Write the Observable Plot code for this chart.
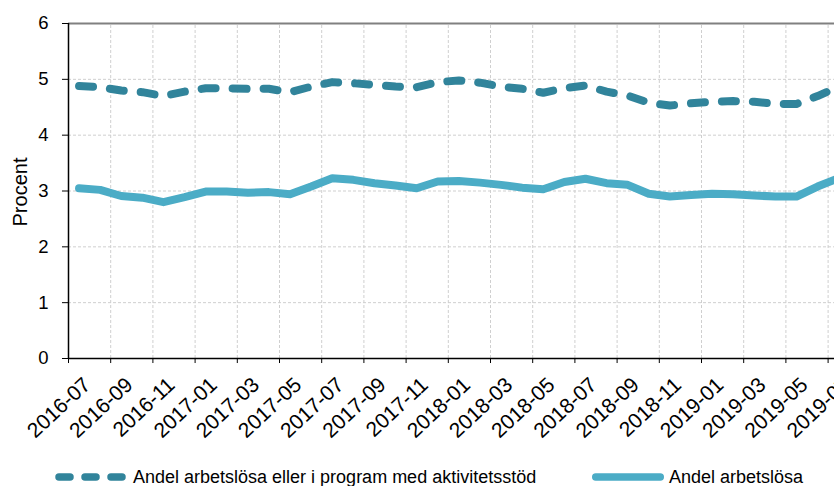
<!DOCTYPE html>
<html>
<head>
<meta charset="utf-8">
<script src="https://cdn.jsdelivr.net/npm/d3@7"></script>
<script src="https://cdn.jsdelivr.net/npm/@observablehq/plot@0.6"></script>
<style>
  html, body { margin: 0; padding: 0; background: white; overflow: hidden; }
  #chart { width: 834px; }
  .legend { position: relative; width: 834px; height: 31px; font-family: "Liberation Sans", Arial, sans-serif; font-size: 18px; color: #000; }
  .legend svg { position: absolute; }
  .legend span { position: absolute; top: 11px; line-height: 22px; white-space: nowrap; }
</style>
</head>
<body>
<div id="chart"></div>
<div class="legend">
  <svg style="left:54px;top:14px" width="84" height="16">
    <line x1="5" y1="8" x2="77" y2="8" stroke="#31849B" stroke-width="7.5" stroke-linecap="round" stroke-dasharray="11,15"></line>
  </svg>
  <span style="left:133px">Andel arbetslösa eller i program med aktivitetsstöd</span>
  <svg style="left:588px;top:14px" width="80" height="16">
    <line x1="7.75" y1="8" x2="72.25" y2="8" stroke="#4BACC6" stroke-width="7.5" stroke-linecap="round"></line>
  </svg>
  <span style="left:669px">Andel arbetslösa</span>
</div>
<script>
const months = [
  "2016-07","2016-08","2016-09","2016-10","2016-11","2016-12",
  "2017-01","2017-02","2017-03","2017-04","2017-05","2017-06",
  "2017-07","2017-08","2017-09","2017-10","2017-11","2017-12",
  "2018-01","2018-02","2018-03","2018-04","2018-05","2018-06",
  "2018-07","2018-08","2018-09","2018-10","2018-11","2018-12",
  "2019-01","2019-02","2019-03","2019-04","2019-05","2019-06",
  "2019-07"
];
const arbetslosaEllerProgram = [
  4.88, 4.86, 4.80, 4.77, 4.70, 4.78,
  4.84, 4.84, 4.83, 4.83, 4.77, 4.87,
  4.95, 4.93, 4.90, 4.87, 4.86, 4.95,
  4.98, 4.94, 4.87, 4.83, 4.76, 4.84,
  4.89, 4.78, 4.71, 4.58, 4.53, 4.57,
  4.60, 4.61, 4.60, 4.56, 4.56, 4.70,
  4.87
];
const arbetslosa = [
  3.05, 3.02, 2.91, 2.88, 2.80, 2.89,
  2.99, 2.99, 2.97, 2.98, 2.94, 3.08,
  3.23, 3.20, 3.14, 3.10, 3.05, 3.17,
  3.18, 3.15, 3.11, 3.06, 3.03, 3.16,
  3.22, 3.14, 3.11, 2.95, 2.90, 2.93,
  2.95, 2.94, 2.92, 2.90, 2.90, 3.08,
  3.23
];
const yTicks = [0, 1, 2, 3, 4, 5, 6];

const rows1 = months.map((m, i) => ({i, month: m, value: arbetslosaEllerProgram[i]}));
const rows2 = months.map((m, i) => ({i, month: m, value: arbetslosa[i]}));
const labelIdx = months.map((m, i) => i).filter(i => i % 2 === 0);
const boundaries = months.map((m, i) => i - 0.5).filter((b, k) => k % 2 === 0);
boundaries.push(months.length - 0.5);

const font = "Liberation Sans, Arial, sans-serif";

const chart = Plot.plot({
  width: 834,
  height: 455,
  marginLeft: 68,
  marginTop: 23,
  marginBottom: 97,
  marginRight: 0,
  style: {fontFamily: font, fontSize: "18px", color: "#000", background: "white"},
  x: {type: "linear", domain: [-0.5, months.length - 0.5], range: [68, 68 + 21.1 * months.length], axis: null},
  y: {type: "linear", domain: [0, 6], axis: null},
  marks: [
    Plot.ruleY(yTicks.filter(v => v > 0 && v < 6), {y: d => d, stroke: "#cfcfcf", strokeWidth: 1, strokeDasharray: "3,2"}),
    Plot.ruleX(boundaries.slice(1), {x: d => d, y1: 0, y2: 6, stroke: "#cfcfcf", strokeWidth: 1, strokeDasharray: "3,2"}),
    Plot.ruleY([6], {y: d => d, stroke: "#808080", strokeWidth: 2}),
    Plot.ruleX([-0.5], {x: d => d, y1: 0, y2: 6, stroke: "#000", strokeWidth: 1.5}),
    Plot.ruleY([0], {y: d => d, stroke: "#000", strokeWidth: 1.5}),
    Plot.ruleX(boundaries, {x: d => d, y1: 0, y2: -0.09, stroke: "#000", strokeWidth: 1}),
    Plot.ruleY(yTicks, {y: d => d, x1: -0.5, x2: -0.785, stroke: "#000", strokeWidth: 1}),
    Plot.text(yTicks, {x: -0.5, y: d => d, text: d => String(d), textAnchor: "end", dx: -20, fontSize: 18.5, fill: "#000"}),
    Plot.text(["Procent"], {x: -0.5, y: 3, dx: -48, dy: 1, rotate: -90, fontSize: 20, fill: "#000"}),
    Plot.text(labelIdx, {x: d => d, y: 0, text: d => months[d], rotate: -43, textAnchor: "end", lineAnchor: "top", dx: 2.5, dy: 17, fontSize: 21, fill: "#000"}),
    Plot.lineY(rows1, {x: "i", y: "value", stroke: "#31849B", strokeWidth: 8, strokeDasharray: "14,17", strokeLinecap: "round", strokeLinejoin: "round"}),
    Plot.lineY(rows2, {x: "i", y: "value", stroke: "#4BACC6", strokeWidth: 8, strokeLinecap: "round", strokeLinejoin: "round"})
  ]
});
document.getElementById("chart").appendChild(chart);
</script>
</body>
</html>
